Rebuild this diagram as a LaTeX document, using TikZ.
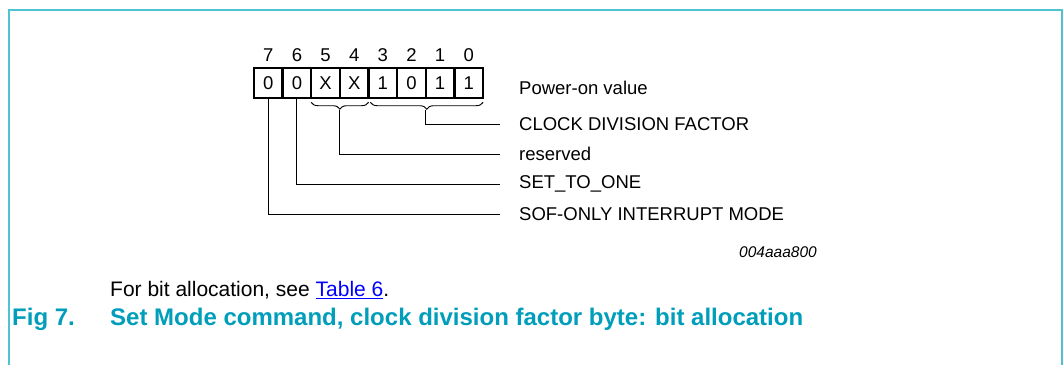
\documentclass[tikz,border=0pt]{standalone}
\usepackage{fontspec}
\setmainfont{Liberation Sans}
\usetikzlibrary{calc,decorations.pathreplacing}

\definecolor{frameteal}{RGB}{80,195,210}
\definecolor{capteal}{RGB}{0,158,186}

\tikzset{
  bitcell/.style={draw, line width=2.4pt, minimum width=28.6pt, minimum height=30pt, inner sep=0pt},
  lbl/.style={anchor=west, inner sep=0pt},
  lead/.style={line width=1pt},
  bracelow/.style={decorate, decoration={brace, amplitude=7pt, mirror}, line width=0.9pt}
}

\begin{document}
\begin{tikzpicture}[x=1pt,y=-1pt,font=\fontsize{18.5}{21}\selectfont]
\useasboundingbox (0,0) rectangle (1064,365);
\draw [frameteal, line width=1.5pt] (9,365) -- (9,10) -- (1062,10) -- (1062,365);

\foreach \v [count=\i from 0] in {0,0,X,X,1,0,1,1} {
  \pgfmathtruncatemacro\b{7-\i}
  \node [bitcell] (c\b) at ({268.3+28.625*\i},83) {\v};
  \node (n\b) at ({268.3+28.625*\i},55) {\b};
}

\draw [bracelow] ([xshift=1pt,yshift=-3pt]c5.south west) -- ([xshift=-1pt,yshift=-3pt]c4.south east);
\draw [bracelow] ([xshift=3pt,yshift=-3pt]c3.south west) -- ([xshift=-1pt,yshift=-3pt]c0.south east);
\coordinate (trsv) at ($(c5.south)!0.5!(c4.south)+(0,11)$);
\coordinate (tclk) at ($(c3.south west)!0.5!(c0.south east)+(0,11)$);

\node [lbl] (pwr) at (519,88) {Power-on value};
\node [lbl] (clk) at (519,124) {CLOCK DIVISION FACTOR};
\node [lbl] (rsv) at (519,154) {reserved};
\node [lbl] (one) at (519,184) {SET\_TO\_ONE};
\node [lbl] (sof) at (519,214) {SOF-ONLY INTERRUPT MODE};

\draw [lead] (tclk) |- ([xshift=-19pt]clk.west);
\draw [lead] (trsv) |- ([xshift=-19pt]rsv.west);
\draw [lead] (c6.south) |- ([xshift=-19pt]one.west);
\draw [lead] (c7.south) |- ([xshift=-19pt]sof.west);

\node (code) at (778,252) {\fontsize{15.5}{18}\selectfont\itshape 004aaa800};

\node [lbl] (note) at (110,290) {\fontsize{21}{24}\selectfont For bit allocation, see {\color{blue}\underline{Table 6}}.};
\node [lbl, capteal] (fig) at (12,319) {\fontsize{24}{27}\selectfont\bfseries Fig 7.};
\node [lbl, capteal] (cap) at (110,319) {\fontsize{24}{27}\selectfont\bfseries Set Mode command, clock division factor byte: bit allocation};
\end{tikzpicture}
\end{document}
